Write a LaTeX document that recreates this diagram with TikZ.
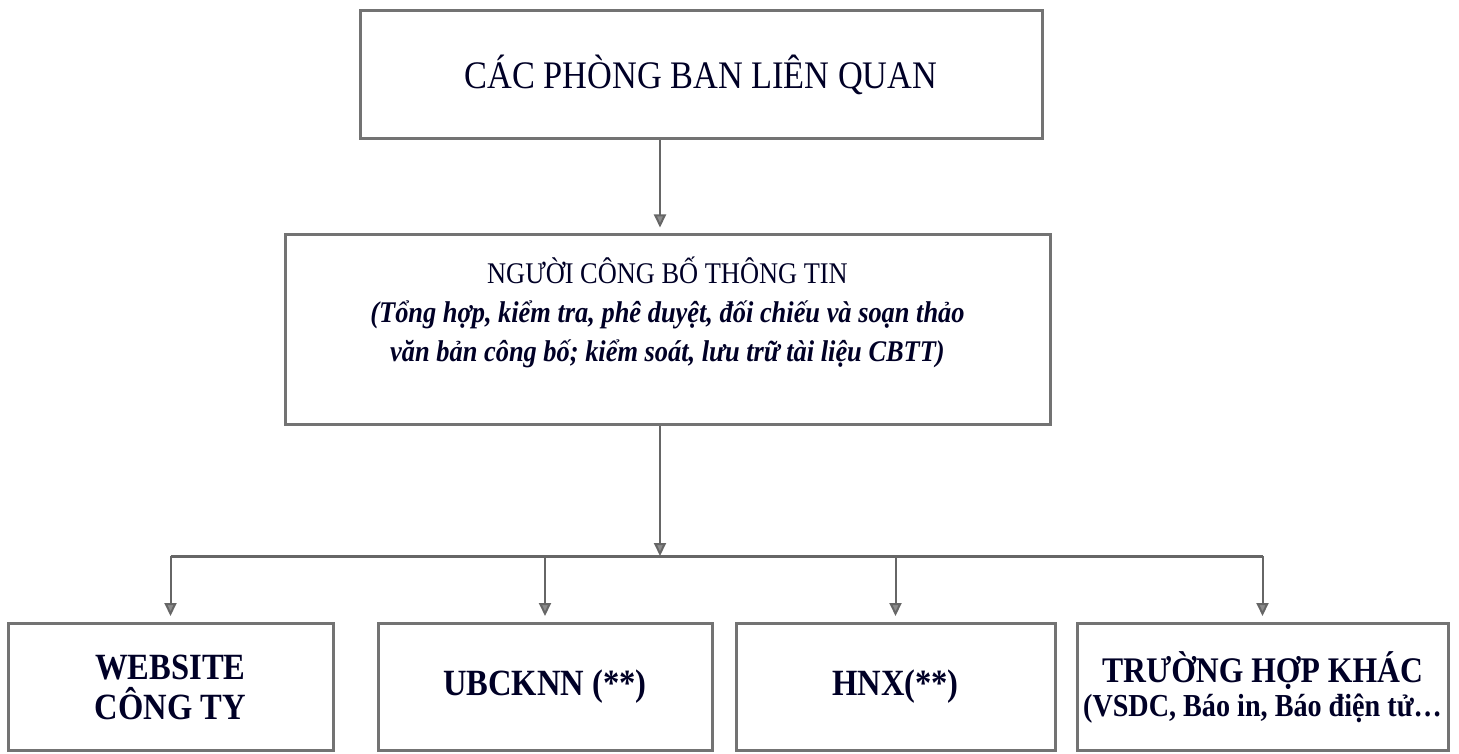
\documentclass[tikz,border=0pt]{standalone}
\usepackage{fontspec}
\setmainfont[FakeStretch=0.88]{Liberation Serif}
\usepackage{tikz}
\usetikzlibrary{arrows.meta}

\begin{document}
\begin{tikzpicture}[x=1pt,y=-1pt,
	box/.style={draw=black!55, line width=3pt, align=center, inner sep=0pt, text=black!85!blue},
	arr/.style={draw=black!60, line width=2pt, -{Triangle[width=12pt,length=13pt,fill=black!45]}, shorten >=6pt},
	busline/.style={draw=black!60, line width=3pt}]
	\useasboundingbox (0,0) rectangle (1459,754);
	\node[box, minimum width=682pt, minimum height=128pt, font=\fontsize{39}{44}\selectfont] (top) at (701,75) {CÁC PHÒNG BAN LIÊN QUAN};
	\node[box, minimum width=765pt, minimum height=189pt] (mid) at (667.5,329.5) {};
	\node[align=center, text=black!85!blue, font=\fontsize{30}{39}\selectfont] (midtext) at (667.5,312) {NGƯỜI CÔNG BỐ THÔNG TIN\\ \textbf{\textit{(Tổng hợp, kiểm tra, phê duyệt, đối chiếu và soạn thảo}}\\ \textbf{\textit{văn bản công bố; kiểm soát, lưu trữ tài liệu CBTT)}}};
	\node[box, minimum width=325pt, minimum height=127pt, font=\bfseries\fontsize{37}{40}\selectfont] (web) at (170.5,687) {WEBSITE\\CÔNG TY};
	\node[box, minimum width=334pt, minimum height=127pt, font=\bfseries\fontsize{37}{40}\selectfont] (ubck) at (545,687) {UBCKNN (**)};
	\node[box, minimum width=319pt, minimum height=127pt, font=\bfseries\fontsize{37}{40}\selectfont] (hnx) at (895.5,687) {HNX(**)};
	\node[box, minimum width=371pt, minimum height=127pt, font=\bfseries\fontsize{36}{34}\selectfont] (other) at (1262.5,687) {TRƯỜNG HỢP KHÁC\\ {\fontsize{32}{34}\selectfont(VSDC, Báo in, Báo điện tử\dots}};
	\coordinate (bus) at (660,556);
	\draw[arr] (top.south -| bus) -- (mid.north -| bus);
	\draw[arr, shorten >=0pt] (mid.south -| bus) -- (bus);
	\draw[busline] (web.north |- bus) -- (other.north |- bus);
	\foreach \n in {web,ubck,hnx,other}
		\draw[arr] (\n.north |- bus) -- (\n.north);
\end{tikzpicture}
\end{document}
